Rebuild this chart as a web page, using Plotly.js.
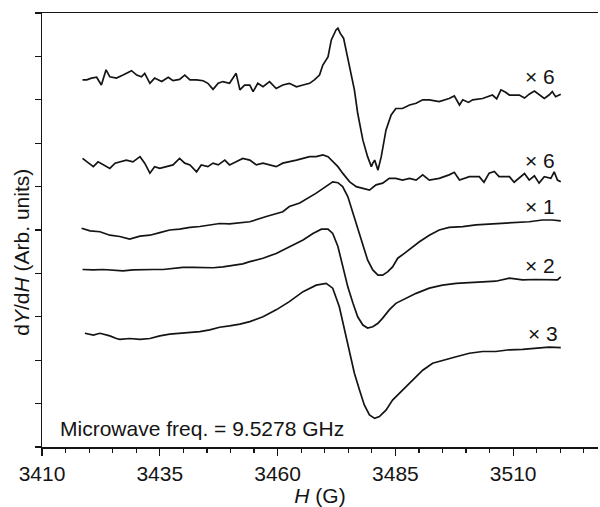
<!DOCTYPE html>
<html>
<head>
<meta charset="utf-8">
<script src="https://cdn.plot.ly/plotly-3.0.1.min.js"></script>
<style>html,body{margin:0;padding:0;background:#fff;}#chart{width:600px;height:507px;}</style>
</head>
<body>
<div id="chart"></div>
<script>
// Magnetic field H (G) and dY/dH (arb. units, offset for display) for each spectrum
const h1 = [3418.6,3419.5,3420.5,3421.6,3422.6,3423.6,3424.4,3425.8,3427.2,3429.0,3430.1,3431.1,3431.8,3432.9,3433.9,3435.4,3436.8,3437.8,3439.2,3440.3,3441.4,3442.8,3444.2,3445.2,3446.3,3447.4,3448.4,3449.8,3451.2,3452.0,3453.0,3454.1,3454.8,3455.8,3456.9,3458.3,3459.7,3461.1,3462.5,3464.0,3465.4,3466.8,3467.8,3468.9,3469.6,3470.7,3471.4,3472.4,3472.8,3473.3,3474.0,3474.7,3475.6,3476.3,3477.0,3478.1,3479.1,3479.9,3480.2,3480.6,3481.3,3482.0,3483.0,3484.1,3485.1,3486.5,3488.0,3489.4,3490.8,3492.2,3494.3,3496.4,3497.5,3498.6,3499.3,3500.5,3501.4,3503.5,3505.6,3506.5,3507.4,3508.3,3509.2,3511.3,3512.4,3513.4,3514.5,3515.5,3516.6,3517.6,3518.3,3519.0,3520.1];
const y1 = [84.6,84.6,85.0,85.2,83.4,86.9,85.3,85.0,85.7,86.7,85.7,85.3,86.1,83.8,85.0,84.2,85.2,84.4,84.7,85.7,84.6,84.6,84.4,83.8,82.4,83.8,84.2,83.8,86.1,82.3,83.4,83.4,81.9,83.8,83.0,84.2,82.6,83.4,83.8,83.0,83.4,83.8,84.6,85.7,88.0,89.9,93.8,96.1,96.5,95.3,94.2,90.7,86.1,82.3,76.9,70.7,66.9,64.6,65.4,66.1,63.8,66.9,73.0,76.5,78.0,78.0,78.8,79.2,80.0,80.0,79.6,80.3,80.9,78.8,80.0,79.4,80.0,80.3,81.1,80.2,82.3,81.8,81.1,81.1,80.4,81.3,82.0,81.1,80.3,81.1,81.9,80.7,81.3];

const h2 = [3418.6,3419.8,3420.9,3421.9,3423.0,3424.4,3425.5,3426.5,3427.9,3429.3,3430.8,3431.8,3432.9,3433.9,3435.0,3436.4,3437.8,3439.2,3440.3,3441.4,3442.8,3443.8,3445.2,3446.3,3447.4,3448.8,3449.8,3451.2,3452.6,3454.1,3455.5,3456.9,3458.3,3459.7,3461.1,3462.5,3464.0,3465.4,3466.8,3468.2,3469.6,3470.7,3471.7,3472.8,3473.8,3475.3,3476.7,3478.1,3479.5,3480.9,3482.3,3483.7,3485.1,3486.5,3488.0,3489.4,3490.8,3492.2,3494.3,3496.4,3497.5,3498.6,3500.7,3502.8,3503.8,3504.9,3506.0,3507.0,3509.2,3510.2,3511.3,3512.4,3513.4,3514.5,3515.5,3516.6,3518.0,3518.7,3519.4,3520.1];
const y2 = [66.5,65.4,64.6,65.7,65.0,64.2,65.4,65.7,66.1,65.7,66.9,65.4,63.1,64.6,64.2,64.6,65.0,66.5,65.4,65.0,63.4,65.0,64.6,65.4,65.0,66.1,65.0,65.7,66.5,66.1,65.0,65.4,65.0,64.6,65.4,65.7,66.1,66.5,66.9,66.9,67.3,66.9,65.7,64.6,63.1,61.1,60.0,59.6,59.2,60.4,60.8,61.9,61.9,61.5,61.9,61.5,62.7,61.5,61.9,62.7,63.3,61.5,62.3,62.3,61.0,63.1,63.5,62.3,62.3,61.0,61.9,63.0,61.5,62.5,60.8,62.3,61.9,63.4,61.5,61.1];

const h3 = [3418.4,3420.2,3422.3,3424.4,3426.5,3428.6,3430.8,3432.9,3435.0,3437.1,3439.2,3441.4,3443.5,3445.6,3447.7,3449.8,3452.0,3454.1,3457.6,3461.1,3462.5,3464.7,3468.2,3470.3,3471.7,3472.8,3473.8,3474.9,3476.0,3477.0,3478.1,3479.1,3480.2,3481.3,3482.3,3483.4,3484.4,3485.5,3486.9,3488.3,3490.1,3492.2,3494.3,3496.4,3499.3,3502.1,3504.9,3507.7,3510.6,3513.4,3516.2,3518.3,3520.1];
const y3 = [50.4,49.8,49.6,48.8,48.5,47.9,48.6,48.8,49.4,50.0,50.2,50.6,50.8,51.2,51.5,51.4,51.7,51.9,53.1,54.2,55.4,56.2,58.5,60.0,61.1,60.9,60.0,57.7,53.8,50.0,46.2,43.1,40.8,39.6,39.6,40.4,41.5,43.5,44.6,45.8,47.3,48.8,50.0,50.6,50.8,51.2,51.4,51.5,51.7,51.9,52.3,52.3,52.1];

const h4 = [3418.6,3420.9,3423.0,3425.1,3427.2,3429.3,3431.5,3433.6,3435.7,3437.8,3439.9,3442.1,3444.2,3446.3,3448.4,3450.5,3452.6,3454.1,3456.9,3459.7,3462.5,3465.4,3467.5,3469.3,3470.7,3471.7,3472.8,3473.8,3474.9,3476.0,3477.0,3478.1,3479.1,3480.2,3481.3,3482.3,3483.7,3485.1,3487.3,3489.4,3492.2,3495.0,3497.9,3500.7,3503.5,3506.3,3509.2,3512.0,3514.8,3517.6,3519.4,3520.1];
const y4 = [40.9,40.8,40.9,40.8,40.6,40.8,40.9,40.9,40.9,41.1,41.4,41.4,41.4,41.3,41.5,41.9,42.2,42.7,43.5,44.6,46.2,47.7,49.2,50.2,50.2,49.2,46.2,41.5,36.9,33.1,30.0,28.1,27.4,27.7,28.5,29.7,31.6,33.1,34.3,35.4,36.6,37.3,37.7,37.9,38.1,38.2,38.9,38.5,38.6,38.6,38.5,39.2];

const h5 = [3419.1,3420.9,3422.3,3424.4,3425.8,3426.5,3428.6,3430.8,3432.9,3435.0,3437.1,3439.2,3441.4,3443.5,3445.6,3447.7,3449.8,3452.0,3454.1,3456.9,3459.7,3462.5,3465.4,3468.2,3470.3,3471.7,3473.1,3474.2,3475.3,3476.3,3477.4,3478.4,3479.5,3480.6,3481.6,3483.0,3484.4,3486.5,3488.7,3490.8,3492.9,3495.0,3497.9,3500.7,3503.5,3506.3,3509.2,3512.0,3514.8,3517.6,3520.1];
const y5 = [26.2,25.8,26.2,25.6,25.0,24.8,25.0,24.8,25.0,25.6,26.0,26.2,26.3,26.6,27.0,27.6,27.9,28.3,28.9,30.0,31.6,33.5,35.8,37.3,37.7,36.6,32.3,27.0,21.6,17.0,13.1,9.7,7.4,6.6,7.0,8.5,10.8,13.1,15.4,17.7,19.3,20.0,20.8,21.6,22.0,22.0,22.4,22.5,22.7,23.0,22.9];

const gainLabels = ['\u00d7 6', '\u00d7 6', '\u00d7 1', '\u00d7 2', '\u00d7 3'];
const xTickVals = [3410, 3435, 3460, 3485, 3510];
const xTickText = ['3410', '3435', '3460', '3485', '3510'];
const yTickVals = [0, 10, 20, 30, 40, 50, 60, 70, 80, 90, 100];

const series = [[h1, y1], [h2, y2], [h3, y3], [h4, y4], [h5, y5]];
const traces = series.map(([x, y]) => ({
  x: x, y: y, type: 'scatter', mode: 'lines',
  line: {color: '#141414', width: 1.7},
  hoverinfo: 'skip', showlegend: false
}));

const labelPos = [[3515.7, 85.3], [3515.7, 66.1], [3515.7, 55.4], [3515.7, 41.9], [3516.4, 26.2]];
const FONT = 'Liberation Sans, Arial, sans-serif';
const annotations = gainLabels.map((t, i) => ({
  x: labelPos[i][0], y: labelPos[i][1], xref: 'x', yref: 'y', text: t,
  showarrow: false, font: {family: FONT, size: 21, color: '#141414'},
  xanchor: 'center', yanchor: 'middle'
}));
annotations.push({
  x: 0.029, y: 0.042, xref: 'paper', yref: 'paper',
  text: 'Microwave freq. = 9.5278 GHz', showarrow: false,
  font: {family: FONT, size: 21, color: '#141414'}, xanchor: 'left', yanchor: 'middle'
});
annotations.push({
  x: -0.036, y: 0.45, xref: 'paper', yref: 'paper', textangle: -90,
  text: 'd<i>Y</i>/d<i>H</i> (Arb. units)', showarrow: false,
  font: {family: FONT, size: 21, color: '#141414'}, xanchor: 'center', yanchor: 'middle'
});

const layout = {
  width: 600, height: 507,
  margin: {l: 42, r: 2, t: 13, b: 60},
  paper_bgcolor: '#fff', plot_bgcolor: '#fff',
  showlegend: false,
  xaxis: {
    range: [3410, 3528], tickvals: xTickVals, ticktext: xTickText,
    ticks: 'outside', ticklen: 7, tickwidth: 1.3, tickcolor: '#141414',
    minor: {dtick: 5, tick0: 3410, ticks: 'outside', ticklen: 4, tickwidth: 1.2, tickcolor: '#141414', showgrid: false},
    showline: true, linecolor: '#141414', linewidth: 1.5, mirror: true,
    showgrid: false, zeroline: false,
    tickfont: {family: FONT, size: 21, color: '#141414'},
    title: {text: '<i>H</i> (G)', font: {family: FONT, size: 21, color: '#141414'}, standoff: 4}
  },
  yaxis: {
    range: [0, 100], tickvals: yTickVals, showticklabels: false,
    ticks: 'outside', ticklen: 6, tickwidth: 1.3, tickcolor: '#141414',
    showline: true, linecolor: '#141414', linewidth: 1.5,
    showgrid: false, zeroline: false
  },
  annotations: annotations
};

Plotly.newPlot('chart', traces, layout, {displayModeBar: false, staticPlot: true});
</script>
</body>
</html>
